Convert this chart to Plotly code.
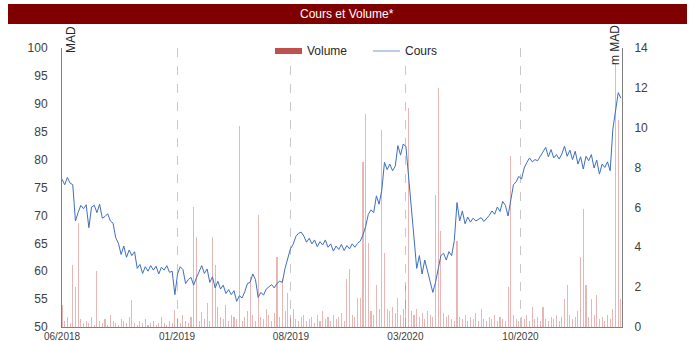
import pandas as pd
import plotly.graph_objects as go

# ---- data ----
start_date = "2018-06-01"
n_points = 209
dates = pd.date_range(start_date, periods=n_points, freq="5D")

cours = [
    76.5, 75.5, 76.8, 75.8, 75.5, 69.0, 70.5, 71.8, 71.2, 71.9,
    67.8, 71.5, 71.8, 70.5, 72.0, 69.5, 69.8, 70.3, 69.0, 68.6,
    66.0, 65.0, 63.0, 64.5, 62.5, 63.8, 62.8, 63.5, 60.5, 61.2,
    59.6, 60.8, 60.0, 61.0, 60.2, 60.9, 59.5, 60.7, 60.2, 61.0,
    59.8, 60.0, 55.8, 59.5, 60.8, 60.3, 57.8, 58.5, 58.9, 57.5,
    58.8, 60.0, 61.0, 59.6, 60.4, 58.0, 59.0, 57.0, 58.2, 56.8,
    57.5, 56.0, 56.7, 55.8, 56.5, 54.6, 55.6, 55.2, 56.3, 57.8,
    58.0, 59.5, 58.5, 55.3, 56.2, 55.7, 56.8, 57.2, 57.6, 57.0,
    57.8, 58.2, 58.0, 60.5, 62.5, 64.0, 64.8, 66.2, 66.8, 67.0,
    66.3, 65.2, 65.9, 64.9, 65.6, 64.4, 65.3, 64.7, 65.6, 64.3,
    64.9, 63.6, 64.5, 63.9, 64.8, 63.7, 64.6, 64.0, 64.9, 64.3,
    65.0, 65.4, 66.5, 68.0, 70.2, 71.0, 70.5, 73.5, 72.0, 74.5,
    79.5, 78.2, 79.2, 78.0, 78.8, 82.5, 80.8, 82.8, 82.3, 77.0,
    72.0, 66.0, 60.5, 62.8, 59.5, 62.0, 60.0, 58.3, 56.2, 58.0,
    60.5, 62.8, 63.2, 62.0, 63.5, 62.8, 65.5, 72.3, 69.0, 70.8,
    68.5, 69.7, 68.8, 69.5, 69.0, 69.3, 69.6, 68.9, 69.4, 70.0,
    70.8, 70.2, 71.5, 70.7, 72.5, 71.8, 69.9, 72.5, 75.5, 76.0,
    77.0, 76.5, 78.5, 79.5, 80.3, 79.6, 80.0, 79.8, 80.6, 81.5,
    82.2, 80.5, 81.8, 80.3, 80.9, 80.1, 81.0, 82.4, 80.6, 81.7,
    80.0, 81.5, 79.2, 80.5, 78.3, 80.6, 79.8, 80.9, 78.5, 79.9,
    77.4, 79.2, 78.6, 79.6, 78.0, 85.5, 89.0, 92.0, 91.0,
]

volume = [
    1.1, 0.3, 0.5, 0.2, 3.1, 2.0, 5.2, 0.4, 0.2, 0.3,
    0.2, 0.5, 0.1, 2.8, 0.3, 0.2, 0.4, 0.1, 0.6, 0.3,
    0.2, 0.1, 0.4, 0.3, 0.2, 0.5, 1.35, 0.2, 0.1, 0.3,
    0.2, 0.4, 0.1, 0.2, 0.3, 0.1, 0.2, 0.5, 0.2, 0.1,
    0.3, 0.2, 0.85, 0.4, 0.2, 0.6, 0.3, 0.2, 0.5, 6.0,
    4.5, 0.3, 0.75, 0.4, 1.2, 0.3, 4.5, 3.1, 1.0, 0.5,
    0.4, 1.1, 0.3, 0.6, 0.5, 0.4, 10.1, 0.3, 0.5, 0.8,
    2.5, 0.6, 0.3, 5.6, 0.5, 0.4, 0.9, 0.6, 0.3, 0.7,
    3.5, 0.5, 2.4, 0.8, 1.7, 0.6, 0.9, 0.4, 0.3, 0.5,
    0.6, 0.3, 0.4, 0.5, 0.2, 0.6, 0.3, 0.8, 0.4, 0.5,
    0.3, 0.6, 0.4, 0.5, 0.7, 0.3, 2.4, 2.9, 0.6, 0.5,
    1.45, 1.45, 8.3, 10.7, 4.2, 0.8, 0.6, 2.1, 0.9, 9.9,
    3.7, 0.9, 0.8, 1.0, 0.7, 1.45, 0.6, 0.9, 2.1, 11.0,
    0.8, 0.6, 0.9, 0.5, 0.7, 0.4, 0.8, 0.6, 0.5, 6.6,
    12.0, 4.8, 0.7, 0.5, 0.6, 0.4, 0.3, 4.3, 0.5, 0.4,
    0.6, 0.3, 0.5, 0.4, 0.7, 0.3, 0.9, 0.4, 0.3, 0.5,
    0.4, 0.6, 0.3, 0.5, 0.4, 0.3, 2.0, 8.6, 0.6, 0.4,
    0.3, 0.5, 0.4, 0.6, 0.3, 1.0, 0.4, 0.5, 0.3, 1.0,
    0.4, 0.3, 0.5, 0.4, 0.6, 0.3, 0.5, 1.4, 2.1, 0.6,
    0.4, 0.5, 0.8, 3.5, 5.9, 2.1, 0.5, 1.4, 0.6, 1.6,
    0.4, 0.5, 0.3, 0.6, 0.4, 0.9, 13.2, 10.4, 1.4,
]

x_tick_vals = ["2018-06-01", "2019-01-01", "2019-08-01", "2020-03-01", "2020-10-01"]
x_tick_text = ["06/2018", "01/2019", "08/2019", "03/2020", "10/2020"]
x_range = ["2018-06-01", "2021-04-08"]
price_range = [50, 100]
volume_range = [0, 14]

title_text = "Cours et Volume*"
left_unit = "MAD"
right_unit = "m MAD"
legend_labels = ["Volume", "Cours"]

# ---- styles ----
W, H = 695, 341
ML, MR, MT, MB = 62, 73, 48, 14
PW, PH = W - ML - MR, H - MT - MB
FONT = "Liberation Sans Narrow, Arial Narrow, Liberation Sans, sans-serif"
BAR_COLOR = "rgba(200,80,77,0.42)"
BAR_LEGEND = "#C0504D"
LINE_COLOR = "#3D6FBF"


def px_x(p):
    return (p - ML) / PW


def px_y(p):
    return (H - MB - p) / PH


fig = go.Figure()
fig.add_trace(go.Bar(
    x=dates, y=volume, yaxis="y", name=legend_labels[0],
    marker=dict(color=BAR_COLOR, line=dict(width=0)),
    width=2.0 * 86400000, showlegend=False,
))
fig.add_trace(go.Scatter(
    x=dates, y=cours, yaxis="y2", name=legend_labels[1], mode="lines",
    line=dict(color=LINE_COLOR, width=1), showlegend=False,
))

fig.update_layout(
    width=W, height=H, autosize=False,
    margin=dict(l=ML, r=MR, t=MT, b=MB, pad=0, autoexpand=False),
    paper_bgcolor="white", plot_bgcolor="white",
    font=dict(family=FONT, size=12, color="#404040"),
    bargap=0,
    xaxis=dict(
        type="date", range=x_range, tickvals=x_tick_vals, ticktext=x_tick_text,
        showgrid=True, gridcolor="#C8C8C8", griddash="dash", gridwidth=1,
        showline=True, linecolor="#808080", linewidth=1,
        ticks="", ticklabelstandoff=0, zeroline=False, automargin=False,
        tickfont=dict(size=10, color="#404040"),
    ),
    yaxis=dict(
        range=volume_range, dtick=2, side="right",
        showgrid=False, zeroline=False, automargin=False,
        showline=True, linecolor="#808080", linewidth=1,
        ticks="", ticklabelstandoff=9,
        tickfont=dict(size=12, color="#404040"),
    ),
    yaxis2=dict(
        range=price_range, dtick=5, side="left", overlaying="y",
        showgrid=False, zeroline=False, automargin=False,
        showline=True, linecolor="#808080", linewidth=1,
        ticks="", ticklabelstandoff=11,
        tickfont=dict(size=12, color="#404040"),
    ),
)

shapes = [
    # title bar
    dict(type="rect", xref="paper", yref="paper",
         x0=px_x(8), x1=px_x(687), y0=px_y(24), y1=px_y(4),
         fillcolor="#800000", line=dict(width=0), layer="above"),
    # legend background
    dict(type="rect", xref="paper", yref="paper",
         x0=px_x(268), x1=px_x(436), y0=px_y(58), y1=px_y(42),
         fillcolor="white", line=dict(width=0), layer="above"),
    # legend swatches
    dict(type="rect", xref="paper", yref="paper",
         x0=px_x(275), x1=px_x(302), y0=px_y(54), y1=px_y(48),
         fillcolor=BAR_LEGEND, line=dict(width=0), layer="above"),
    dict(type="line", xref="paper", yref="paper",
         x0=px_x(373), x1=px_x(400), y0=px_y(51), y1=px_y(51),
         line=dict(color="#8EAADB", width=1.2), layer="above"),
]
fig.update_layout(shapes=shapes)

annotations = [
    dict(text=title_text, xref="paper", yref="paper", x=px_x(347), y=px_y(14),
         showarrow=False, font=dict(family=FONT, size=12, color="white"),
         xanchor="center", yanchor="middle"),
    dict(text=left_unit, xref="paper", yref="paper", x=px_x(71), y=px_y(40),
         showarrow=False, textangle=-90, font=dict(family=FONT, size=12, color="#262626"),
         xanchor="center", yanchor="middle"),
    dict(text=right_unit, xref="paper", yref="paper", x=px_x(615), y=px_y(45),
         showarrow=False, textangle=-90, font=dict(family=FONT, size=12, color="#262626"),
         xanchor="center", yanchor="middle"),
    dict(text=legend_labels[0], xref="paper", yref="paper", x=px_x(305), y=px_y(51),
         showarrow=False, font=dict(family=FONT, size=12, color="#262626"),
         xanchor="left", yanchor="middle"),
    dict(text=legend_labels[1], xref="paper", yref="paper", x=px_x(403), y=px_y(51),
         showarrow=False, font=dict(family=FONT, size=12, color="#262626"),
         xanchor="left", yanchor="middle"),
]
fig.update_layout(annotations=annotations)

fig.write_html(
    "out.html",
    config={"displayModeBar": False},
    post_script="document.body.style.margin='0';document.body.style.overflow='hidden';",
)
